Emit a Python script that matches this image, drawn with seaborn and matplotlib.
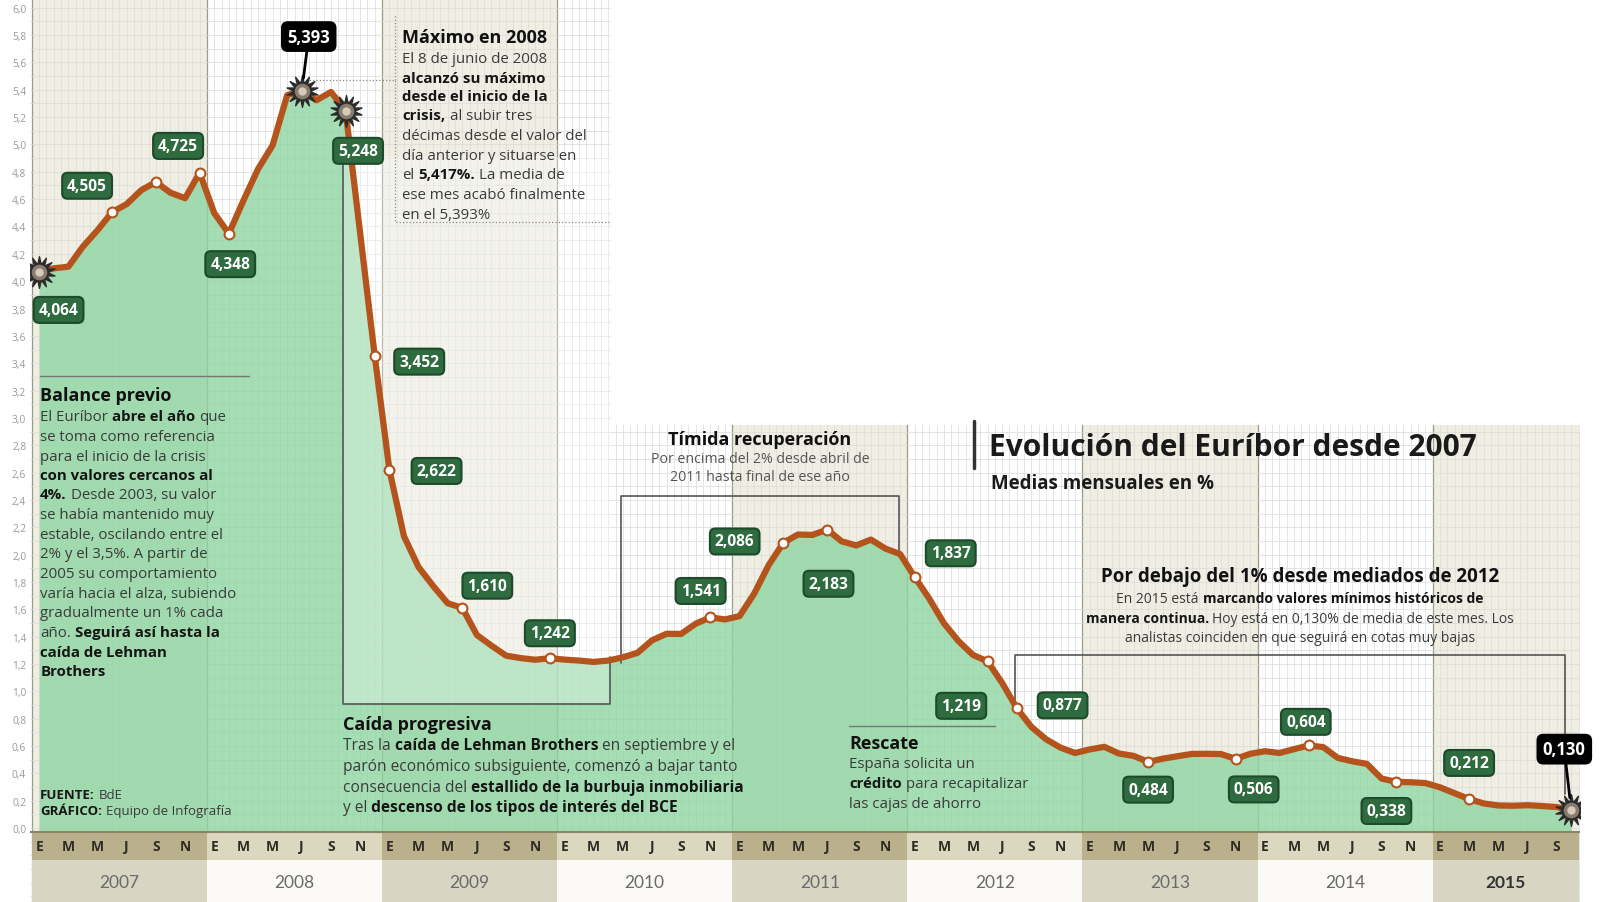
import matplotlib
matplotlib.use("Agg")
import matplotlib.pyplot as plt
from matplotlib.patches import Rectangle
from matplotlib.ticker import MultipleLocator
from matplotlib.offsetbox import TextArea, HPacker, VPacker, AnnotationBbox
import numpy as np
import pandas as pd
import seaborn as sns

# Euribor a 12 meses, medias mensuales (enero 2007 - octubre 2015)
anios = [2007, 2008, 2009, 2010, 2011, 2012, 2013, 2014, 2015]
meses_letra = ["E", "M", "M", "J", "S", "N"]

euribor_2007 = [4.064, 4.094, 4.106, 4.253, 4.373, 4.505, 4.564, 4.666, 4.725, 4.647, 4.607, 4.793]
euribor_2008 = [4.498, 4.348, 4.590, 4.820, 4.994, 5.361, 5.393, 5.323, 5.384, 5.248, 4.350, 3.452]
euribor_2009 = [2.622, 2.135, 1.909, 1.771, 1.644, 1.610, 1.412, 1.334, 1.261, 1.243, 1.231, 1.242]
euribor_2010 = [1.232, 1.225, 1.215, 1.225, 1.249, 1.281, 1.373, 1.421, 1.420, 1.495, 1.541, 1.526]
euribor_2011 = [1.550, 1.714, 1.924, 2.086, 2.147, 2.144, 2.183, 2.097, 2.067, 2.110, 2.044, 2.004]
euribor_2012 = [1.837, 1.678, 1.499, 1.368, 1.266, 1.219, 1.061, 0.877, 0.740, 0.650, 0.588, 0.549]
euribor_2013 = [0.575, 0.594, 0.545, 0.528, 0.484, 0.507, 0.525, 0.542, 0.543, 0.541, 0.506, 0.543]
euribor_2014 = [0.562, 0.549, 0.577, 0.604, 0.592, 0.513, 0.488, 0.469, 0.362, 0.338, 0.335, 0.329]
euribor_2015 = [0.298, 0.255, 0.212, 0.180, 0.165, 0.163, 0.167, 0.161, 0.154, 0.130]

# meses destacados (indice desde enero 2007) y su etiqueta
etiquetas_mes = [0, 5, 8, 13, 18, 21, 23, 24, 29, 35, 46, 51, 54, 60, 65, 67, 76, 82, 87, 93, 98, 105]
etiquetas_txt = ["4,064", "4,505", "4,725", "4,348", "5,393", "5,248", "3,452", "2,622", "1,610",
                 "1,242", "1,541", "2,086", "2,183", "1,837", "1,219", "0,877", "0,484", "0,506",
                 "0,604", "0,338", "0,212", "0,130"]
puntos_blancos = [5, 8, 11, 13, 23, 24, 29, 35, 46, 51, 54, 60, 65, 67, 76, 82, 87, 93, 98]
puntos_engranaje = [0, 18, 21, 105]

valores = (euribor_2007 + euribor_2008 + euribor_2009 + euribor_2010 + euribor_2011
           + euribor_2012 + euribor_2013 + euribor_2014 + euribor_2015)
df = pd.DataFrame({"mes": np.arange(len(valores)), "valor": valores})

NARANJA = "#b5531c"
VERDE = "#8fd6a2"
VERDE_CAJA = "#2e6b3e"
TEXTO = "#3a3a3a"

sns.set_theme(style="white")
plt.rcParams["font.family"] = ["Open Sans", "DejaVu Sans"]

fig = plt.figure(figsize=(16, 9.03), dpi=100)
ax = fig.add_axes([0.019, 0, 0.9685, 1])

# fondo por años + bandas de meses y años
for k, anio in enumerate(anios):
    x0 = k * 12 - 0.5
    x1 = min(x0 + 12, 105.5)
    impar = k % 2 == 0
    if impar:
        ax.add_patch(Rectangle((x0, -0.03), x1 - x0, 6.2, fc="#f0eee3", ec="none", zorder=0.1))
    ax.add_patch(Rectangle((x0, -0.235), x1 - x0, 0.205,
                           fc="#bab18c" if impar else "#dcd7bf", ec="none", zorder=3))
    ax.add_patch(Rectangle((x0, -0.6), x1 - x0, 0.365,
                           fc="#d9d5c3" if impar else "#fbfaf6", ec="none", zorder=3))
    ax.text((x0 + x1) / 2, -0.395, str(anio), ha="center", va="center", fontsize=12.5,
            color="#333333" if anio == 2015 else "#6a6a6a", family="Lato",
            fontweight="bold" if anio == 2015 else "normal", zorder=4)
    for j, letra in enumerate(meses_letra):
        m = k * 12 + j * 2
        if m < len(valores):
            ax.text(m, -0.132, letra, ha="center", va="center", fontsize=10,
                    fontweight="bold", color="#2e2b22", zorder=4)
ax.axhline(-0.03, color="#8c8467", lw=1.5, zorder=3.2)

# rejilla
ax.set_xlim(-0.6, 105.6)
ax.set_ylim(-0.541, 6.064)
ax.xaxis.set_minor_locator(MultipleLocator(0.5))
ax.set_xticks(np.arange(-0.5, 106, 12))
ax.set_xticklabels([])
ax.set_yticks(np.arange(0, 6.01, 0.2))
ax.set_yticklabels([f"{v:.1f}".replace(".", ",") for v in np.arange(0, 6.01, 0.2)])
ax.yaxis.set_minor_locator(MultipleLocator(0.1))
ax.set_axisbelow(True)
ax.grid(which="minor", color="#dadada", lw=0.5)
ax.grid(which="major", axis="y", color="#dadada", lw=0.5)
ax.grid(which="major", axis="x", color="#9a9a88", lw=0.9)
ax.tick_params(axis="both", which="both", length=0, labelsize=7.3, labelcolor="#9a9a9a", pad=3)
for s in ax.spines.values():
    s.set_visible(False)

# zona en blanco arriba a la derecha
ax.add_patch(Rectangle((39.2, 2.95), 70, 4, fc="white", ec="none", zorder=0.8))

# area y linea
ax.fill_between(df["mes"], -0.03, df["valor"], color=VERDE, alpha=0.8, lw=0, zorder=2)
sns.lineplot(data=df, x="mes", y="valor", color=NARANJA, lw=4.5, ax=ax, zorder=4)

# caja de "caida progresiva" (aclara el area)
ax.add_patch(Rectangle((20.8, 0.91), 18.3, 4.0, fc="white", alpha=0.3, ec="none", zorder=2.5))

blancos = df.loc[puntos_blancos]
sns.scatterplot(data=blancos, x="mes", y="valor", s=50, color="white", edgecolor=NARANJA,
                linewidth=1.5, ax=ax, zorder=5)
engr = df.loc[puntos_engranaje]
ax.scatter(engr["mes"], engr["valor"], marker=(14, 1, 0), s=520, c="#2b2b2b", zorder=6)
ax.scatter(engr["mes"], engr["valor"], s=150, c="#8a7c6c", edgecolors="#2b2b2b", lw=1, zorder=6.5)
ax.scatter(engr["mes"], engr["valor"], s=25, c="#d4cbbb", zorder=6.6)
ax.set_xlabel("")
ax.set_ylabel("")

# etiquetas de valores
desplaz = {0: (14, -27), 5: (-18, 19), 8: (16, 26), 13: (1, -22), 18: (5, 39), 21: (9, -29),
           23: (32, -4), 24: (34, -1), 29: (18, 16), 35: (0, 18), 46: (-7, 19), 51: (-35, 1),
           54: (1, -39), 60: (26, 17), 65: (-19, -32), 67: (33, 2), 76: (0, -20), 82: (13, -22),
           87: (-2, 17), 93: (-7, -21), 98: (0, 26), 105: (-5, 44)}
for m, txt in zip(etiquetas_mes, etiquetas_txt):
    negra = m in (18, 105)
    kw = {}
    if negra:
        kw["arrowprops"] = dict(arrowstyle="-", color="black", lw=2, shrinkA=0, shrinkB=9)
    ax.annotate(txt, xy=(m, df.loc[m, "valor"]), xytext=desplaz[m], textcoords="offset points",
                ha="center", va="center", color="white", fontweight="bold",
                fontsize=12 if negra else 11.2,
                bbox=dict(boxstyle="round,pad=0.32,rounding_size=0.35",
                          fc="black" if negra else VERDE_CAJA,
                          ec="black" if negra else "#1d4a2a", lw=1.5),
                zorder=8, **kw)


def bloque(x, y, titulo, lineas, alinear="left", size=10.8, tsize=13, sep=3.4, color=TEXTO):
    filas = []
    if titulo:
        filas.append(TextArea(titulo, textprops=dict(fontsize=tsize, fontweight="bold", color="#111111")))
    for linea in lineas:
        trozos = []
        for i, t in enumerate(linea.split("**")):
            t = t.strip()
            if t:
                trozos.append(TextArea(t, textprops=dict(
                    fontsize=size, fontweight="bold" if i % 2 else "normal",
                    color="#151515" if i % 2 else color)))
        filas.append(HPacker(children=trozos, align="baseline", pad=0, sep=size * 0.27))
    caja = VPacker(children=filas, align=alinear, pad=0, sep=sep)
    ab = AnnotationBbox(caja, (x, y), xycoords="data", frameon=False, pad=0,
                        box_alignment=(0 if alinear == "left" else 0.5, 1), zorder=9)
    ax.add_artist(ab)


bloque(24.9, 5.85, "Máximo en 2008",
       ["El 8 de junio de 2008", "**alcanzó su máximo**", "**desde el inicio de la**",
        "**crisis,** al subir tres", "décimas desde el valor del", "día anterior y situarse en",
        "el **5,417%.** La media de", "ese mes acabó finalmente", "en el 5,393%"])

bloque(0.07, 3.23, "Balance previo",
       ["El Euríbor **abre el año** que", "se toma como referencia", "para el inicio de la crisis",
        "**con valores cercanos al**", "**4%.** Desde 2003, su valor", "se había mantenido muy",
        "estable, oscilando entre el", "2% y el 3,5%. A partir de", "2005 su comportamiento",
        "varía hacia el alza, subiendo", "gradualmente un 1% cada",
        "año. **Seguirá así hasta la**", "**caída de Lehman**", "**Brothers**"])

bloque(20.8, 0.83, "Caída progresiva",
       ["Tras la **caída de Lehman Brothers** en septiembre y el",
        "parón económico subsiguiente, comenzó a bajar tanto",
        "consecuencia del **estallido de la burbuja inmobiliaria**",
        "y el **descenso de los tipos de interés del BCE**"], size=11.2)

bloque(49.4, 2.91, "Tímida recuperación",
       ["Por encima del 2% desde abril de", "2011 hasta final de ese año"],
       alinear="center", color="#555555", size=10.2, sep=2.2)

bloque(86.4, 1.915, "Por debajo del 1% desde mediados de 2012",
       ["En 2015 está **marcando valores mínimos históricos de**",
        "**manera continua.** Hoy está en 0,130% de media de este mes. Los",
        "analistas coinciden en que seguirá en cotas muy bajas"],
       alinear="center", size=10, tsize=13.5)

bloque(55.5, 0.69, "Rescate",
       ["España solicita un", "**crédito** para recapitalizar", "las cajas de ahorro"])

bloque(0.07, 0.29, None, ["**FUENTE:** BdE", "**GRÁFICO:** Equipo de Infografía"], size=9.5, sep=2.0)

# titulo
ax.text(65.1, 2.9, "Evolución del Euríbor desde 2007", ha="left", va="top",
        fontsize=21.5, fontweight="bold", color="#1a1a1a", zorder=9)
ax.text(65.2, 2.6, "Medias mensuales en %", ha="left", va="top",
        fontsize=13.5, fontweight="bold", color="#1a1a1a", zorder=9)
ax.plot([64.05, 64.05], [2.63, 2.98], color="#333333", lw=2.5, zorder=9)

# lineas de apoyo de los textos
gris = "#555555"
ax.plot([0.07, 14.4], [3.31, 3.31], color="#777777", lw=1, zorder=9)
ax.plot([55.5, 65.5], [0.75, 0.75], color="#777777", lw=1, zorder=9)
ax.plot([18.3, 24.4, 24.4, 39.2], [5.47, 5.47, 4.43, 4.43], color="#888888", lw=0.9,
        ls=":", zorder=2.6)
ax.plot([24.4, 24.4], [5.47, 5.95], color="#888888", lw=0.9, ls=":", zorder=2.6)
ax.plot([20.8, 20.8, 39.1, 39.1], [4.9, 0.91, 0.91, 1.25], color=gris, lw=1.2, zorder=2.7)
ax.plot([39.9, 39.9, 58.95, 58.95], [1.21, 2.43, 2.43, 2.03], color=gris, lw=1.2, zorder=2.7)
ax.plot([66.85, 66.85, 104.6, 104.6], [0.91, 1.265, 1.265, 0.25], color=gris, lw=1.2, zorder=2.7)

fig.savefig("out.png", dpi=100)
